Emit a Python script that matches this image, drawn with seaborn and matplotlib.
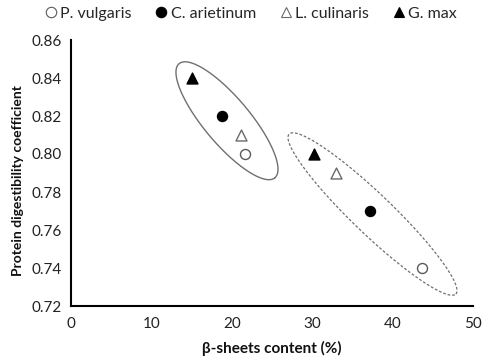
import numpy as np
import pandas as pd
import matplotlib
matplotlib.use("Agg")
import matplotlib.pyplot as plt
from matplotlib.lines import Line2D
import seaborn as sns

# Legume series: beta-sheet content (%) vs protein digestibility coefficient
species = ["P. vulgaris", "C. arietinum", "L. culinaris", "G. max"]
beta_group1 = [21.7, 18.8, 21.2, 15.1]
pdc_group1 = [0.80, 0.82, 0.81, 0.84]
beta_group2 = [43.6, 37.2, 33.0, 30.2]
pdc_group2 = [0.74, 0.77, 0.79, 0.80]

x_ticks = [0, 10, 20, 30, 40, 50]
y_ticks = [0.72, 0.74, 0.76, 0.78, 0.80, 0.82, 0.84, 0.86]

sns.set_theme(style="white")
plt.rcParams["font.family"] = ["Lato", "DejaVu Sans"]

styles = {
    "P. vulgaris": dict(marker="o", fc="white", ec="#5a5a5a", s=52),
    "C. arietinum": dict(marker="o", fc="black", ec="black", s=52),
    "L. culinaris": dict(marker="^", fc="white", ec="#6a6a6a", s=62),
    "G. max": dict(marker="^", fc="black", ec="black", s=62),
}

df = pd.DataFrame({
    "species": species * 2,
    "beta": beta_group1 + beta_group2,
    "pdc": pdc_group1 + pdc_group2,
})

fig = plt.figure(figsize=(4.82, 3.6), dpi=100)
ax = fig.add_axes([71 / 482, 1 - 306 / 360, 402 / 482, 266 / 360])

for sp in species:
    st = styles[sp]
    sns.scatterplot(data=df[df["species"] == sp], x="beta", y="pdc", ax=ax,
                    marker=st["marker"], s=st["s"], color=st["fc"],
                    edgecolor=st["ec"], linewidth=1.0, zorder=3, legend=False)

ax.set_xlim(0, 50)
ax.set_ylim(0.72, 0.86)
ax.set_xticks(x_ticks)
ax.set_yticks(y_ticks)
ax.set_xticklabels([str(v) for v in x_ticks])
ax.set_yticklabels([f"{v:.2f}" for v in y_ticks])

# Group outlines: ellipse sizes given in screen pixels, mapped to data units
px_x = 50 / 402
px_y = 0.14 / 266


def outline(cx, cy, major_px, minor_px, angle_deg, **kw):
    t = np.linspace(0, 2 * np.pi, 400)
    th = np.deg2rad(angle_deg)
    a, b = major_px / 2, minor_px / 2
    dx = a * np.cos(t) * np.cos(th) - b * np.sin(t) * np.sin(th)
    dy = a * np.cos(t) * np.sin(th) + b * np.sin(t) * np.cos(th)
    ax.plot(cx + dx * px_x, cy + dy * px_y, **kw)


outline(19.4, 0.8175, 149, 46, -50, color="#707070", lw=1.0, zorder=2)
outline(37.5, 0.7684, 231, 40, -43.8, color="#707070", lw=0.9,
        ls=(0, (2.2, 1.5)), zorder=2)

for side in ["top", "right"]:
    ax.spines[side].set_visible(False)
for side in ["left", "bottom"]:
    ax.spines[side].set_color("black")
    ax.spines[side].set_linewidth(1.5)
ax.tick_params(axis="both", direction="out", length=4, width=1.2,
               color="black", labelsize=11, labelcolor="#222222", pad=3)
ax.tick_params(axis="x", pad=4)

ax.set_xlabel("β-sheets content (%)", fontsize=11, fontweight="bold",
              color="#111111", labelpad=7)
ax.set_ylabel("Protein digestibility coefficient", fontsize=10,
              fontweight="bold", color="#111111")
ax.yaxis.set_label_coords(-0.118, 0.47)

handles = [
    Line2D([], [], ls="none", marker=styles[sp]["marker"], markersize=7.5,
           markerfacecolor=styles[sp]["fc"], markeredgecolor=styles[sp]["ec"],
           markeredgewidth=0.8, label=sp)
    for sp in species
]
fig.legend(handles=handles, loc="center", bbox_to_anchor=(250 / 482, 1 - 14 / 360),
           ncol=4, frameon=False, fontsize=11.5, handletextpad=0.1,
           columnspacing=1.35, handlelength=1.0, borderaxespad=0)

fig.savefig("out.png", dpi=100)
